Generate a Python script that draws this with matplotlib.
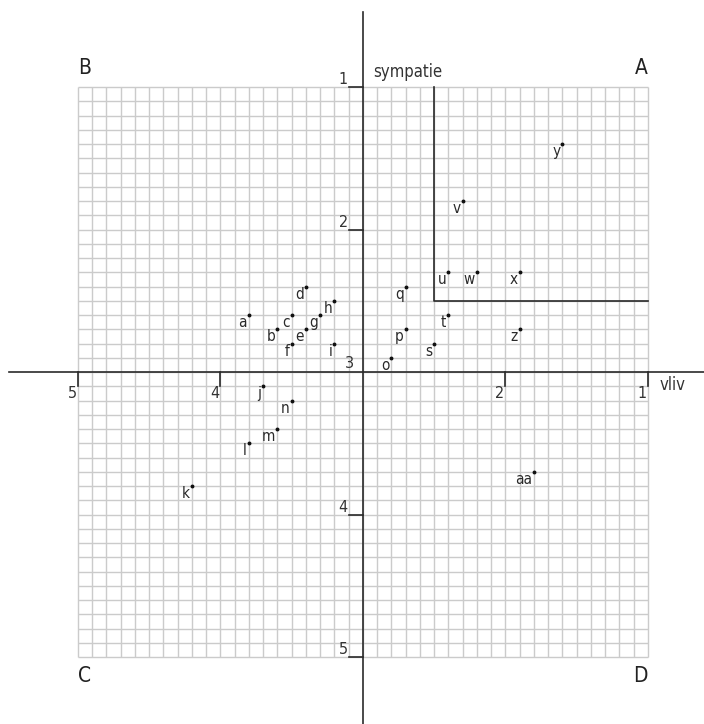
import numpy as np
import matplotlib
matplotlib.use("Agg")
import matplotlib.pyplot as plt
from matplotlib import font_manager

# use a narrow face if one is available, like the print original
names = {f.name for f in font_manager.fontManager.ttflist}
narrow = [n for n in ['Liberation Sans Narrow', 'DejaVu Sans Condensed'] if n in names]
plt.rcParams['font.family'] = narrow + ['DejaVu Sans']
plt.rcParams['font.stretch'] = 'condensed'

# point labels and their scores (vliv = x, sympatie = y), both scales run 1..5
labels = ['a', 'b', 'c', 'd', 'e', 'f', 'g', 'h', 'i', 'j', 'k', 'l', 'm', 'n',
          'o', 'p', 'q', 's', 't', 'u', 'v', 'w', 'x', 'y', 'z', 'aa']
vliv = [3.8, 3.6, 3.5, 3.4, 3.4, 3.5, 3.3, 3.2, 3.2, 3.7, 4.2, 3.8, 3.6, 3.5,
        2.8, 2.7, 2.7, 2.5, 2.4, 2.4, 2.3, 2.2, 1.9, 1.6, 1.9, 1.8]
sympatie = [2.6, 2.7, 2.6, 2.4, 2.7, 2.8, 2.6, 2.5, 2.8, 3.1, 3.8, 3.5, 3.4, 3.2,
            2.9, 2.7, 2.4, 2.8, 2.6, 2.3, 1.8, 2.3, 2.3, 1.4, 2.7, 3.7]

scale_ticks = [1, 2, 4, 5]
corners = ['A', 'B', 'C', 'D']
box_edge = 2.5

fig = plt.figure(figsize=(7.04, 7.24), dpi=100)
ax = fig.add_axes([0, 0, 1, 1])
ax.set_xlim(5.547, 0.607)
ax.set_ylim(5.470, 0.3895)
ax.axis('off')

# fine grid, 10 cells per unit
grid = np.linspace(1, 5, 41)
ax.vlines(grid, 1, 5, color='#cbcbcb', lw=1.0, zorder=1)
ax.hlines(grid, 1, 5, color='#cbcbcb', lw=1.0, zorder=1)

axcol = '#2a2a2a'
ax.plot([5.484, 0.607], [3, 3], color=axcol, lw=1.2, zorder=2)
ax.plot([3, 3], [0.474, 5.47], color=axcol, lw=1.2, zorder=2)

# box in quadrant A
ax.plot([box_edge, box_edge, 1], [1, box_edge, box_edge], color=axcol, lw=1.2, zorder=2)

# ticks
for t in scale_ticks:
    ax.plot([t, t], [3, 3.1], color=axcol, lw=1.2, zorder=2)
    ax.annotate(str(t), (t, 3.1), xytext=(-1, 0), textcoords='offset pixels',
                ha='right', va='top', fontsize=11.5, color='#333333')
    ax.plot([3, 3.1], [t, t], color=axcol, lw=1.2, zorder=2)
    ax.annotate(str(t), (3.1, t), xytext=(-1, 0), textcoords='offset pixels',
                ha='right', va='bottom', fontsize=11.5, color='#333333')
ax.annotate('3', (3, 3), xytext=(-14, 1), textcoords='offset pixels',
            ha='center', va='bottom', fontsize=11.5, color='#333333')

ax.annotate('sympatie', (3, 1), xytext=(10, 6), textcoords='offset pixels',
            ha='left', va='bottom', fontsize=12, color='#333333')
ax.annotate('vliv', (1, 3), xytext=(12, -4), textcoords='offset pixels',
            ha='left', va='top', fontsize=12, color='#333333')

# quadrant letters
corner_pos = {'A': (1, 1, 'right', 'bottom'), 'B': (5, 1, 'left', 'bottom'),
              'C': (5, 5, 'left', 'top'), 'D': (1, 5, 'right', 'top')}
for c in corners:
    cx, cy, ha, va = corner_pos[c]
    dy = 9 if va == 'bottom' else -9
    ax.annotate(c, (cx, cy), xytext=(0, dy), textcoords='offset pixels',
                ha=ha, va=va, fontsize=15, color='#222222')

ax.plot(vliv, sympatie, 'o', color='#111111', ms=1.8, zorder=3)
for lab, x, y in zip(labels, vliv, sympatie):
    ax.annotate(lab, (x, y), xytext=(-2, -12), textcoords='offset pixels',
                ha='right', va='baseline', fontsize=11, color='#2a2a2a', zorder=3)

fig.savefig('out.png', dpi=100, facecolor='white')
